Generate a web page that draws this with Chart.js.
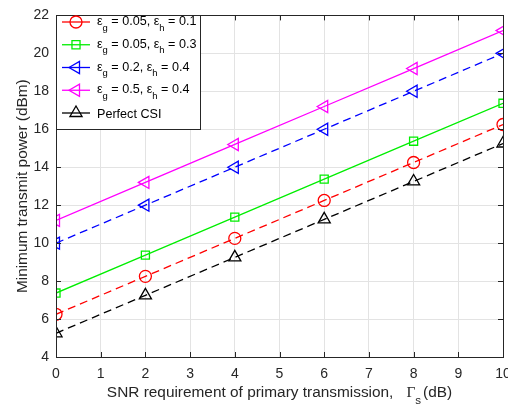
<!DOCTYPE html>
<html>
<head>
<meta charset="utf-8">
<script src="https://cdn.jsdelivr.net/npm/chart.js@4.4.0/dist/chart.umd.min.js"></script>
<style>
  html, body { margin: 0; padding: 0; background: #fff; overflow: hidden; }
  #wrap { width: 508px; height: 408px; position: relative; }
  #c { display: block; }
</style>
</head>
<body>
<div id="wrap"><canvas id="c"></canvas></div>
<script>
// data
const snr = [0, 2, 4, 6, 8, 10];
const powerG005H01 = [6.25, 8.25, 10.25, 12.25, 14.25, 16.25];
const powerG005H03 = [7.37, 9.37, 11.37, 13.37, 15.37, 17.37];
const powerG02H04 = [10, 12, 14, 16, 18, 20];
const powerG05H04 = [11.2, 13.2, 15.2, 17.2, 19.2, 21.2];
const powerPerfect = [5.25, 7.25, 9.25, 11.25, 13.25, 15.25];

const epsG = ['0.05', '0.05', '0.2', '0.5'];
const epsH = ['0.1', '0.3', '0.4', '0.4'];
const xTicks = [0, 1, 2, 3, 4, 5, 6, 7, 8, 9, 10];
const yTicks = [4, 6, 8, 10, 12, 14, 16, 18, 20, 22];

const FONT = '"Liberation Sans", Arial, Helvetica, sans-serif';
const SERIF = '"Liberation Serif", "Times New Roman", serif';
const AXC = '#262626';

function mk(values, color, style, rot, r, dash) {
  return {
    data: values.map((v, i) => ({ x: snr[i], y: v })),
    borderColor: color,
    borderWidth: 1.3,
    borderDash: dash,
    pointStyle: style,
    rotation: rot,
    pointRadius: r,
    pointHoverRadius: r,
    pointBackgroundColor: 'rgba(0,0,0,0)',
    pointBorderColor: color,
    pointBorderWidth: 1.3,
    fill: false,
    tension: 0
  };
}

const series = [
  mk(powerG005H01, '#ff0000', 'circle', 0, 6, [8, 5]),
  mk(powerG005H03, '#00ee00', 'rect', 0, 5.7, []),
  mk(powerG02H04, '#0000ff', 'triangle', -90, 7, [8, 5]),
  mk(powerG05H04, '#ff00ff', 'triangle', -90, 7, []),
  mk(powerPerfect, '#000000', 'triangle', 0, 7, [8, 5])
];

// text with subscripts, parts = [text, isSub, family, extraGapBefore]
function richText(ctx, parts, x, y, size, draw) {
  ctx.textBaseline = 'alphabetic';
  ctx.textAlign = 'left';
  const x0 = x;
  parts.forEach(p => {
    const sz = p[1] ? size * 0.75 : size;
    ctx.font = sz + 'px ' + (p[2] || FONT);
    x += p[3] || 0;
    if (draw) ctx.fillText(p[0], x, p[1] ? y + size * 0.45 : y);
    x += ctx.measureText(p[0]).width;
  });
  return x - x0;
}

const decor = {
  id: 'decor',
  afterDraw(chart) {
    const ctx = chart.ctx;
    const a = chart.chartArea;
    const sx = chart.scales.x, sy = chart.scales.y;
    ctx.save();
    // axes box and inward ticks
    ctx.strokeStyle = AXC;
    ctx.lineWidth = 1;
    ctx.setLineDash([]);
    ctx.strokeRect(Math.round(a.left) + 0.5, Math.round(a.top) + 0.5,
      Math.round(a.right - a.left), Math.round(a.bottom - a.top));
    ctx.beginPath();
    xTicks.forEach(t => {
      const px = Math.round(sx.getPixelForValue(t)) + 0.5;
      ctx.moveTo(px, a.bottom); ctx.lineTo(px, a.bottom - 5);
      ctx.moveTo(px, a.top); ctx.lineTo(px, a.top + 5);
    });
    yTicks.forEach(t => {
      const py = Math.round(sy.getPixelForValue(t)) + 0.5;
      ctx.moveTo(a.left, py); ctx.lineTo(a.left + 5, py);
      ctx.moveTo(a.right, py); ctx.lineTo(a.right - 5, py);
    });
    ctx.stroke();

    // x tick labels (drawn here so the last one may run past the edge)
    ctx.fillStyle = AXC;
    ctx.font = '14px ' + FONT;
    ctx.textAlign = 'center';
    ctx.textBaseline = 'alphabetic';
    xTicks.forEach(t => ctx.fillText(String(t), sx.getPixelForValue(t), a.bottom + 21));

    // x axis title with subscript
    const xParts = [['SNR requirement of primary transmission,', false],
      ['\u0393', false, SERIF, 13], ['s', true], ['(dB)', false, FONT, 2]];
    const w = richText(ctx, xParts, 0, 0, 15.4, false);
    richText(ctx, xParts, (a.left + a.right) / 2 - w / 2, 397, 15.4, true);

    // legend
    const lx = Math.round(a.left) + 0.5, ly = Math.round(a.top) + 0.5;
    ctx.fillStyle = '#fff';
    ctx.fillRect(lx, ly, 144, 114);
    ctx.strokeStyle = AXC;
    ctx.strokeRect(lx, ly, 144, 114);
    series.forEach((s, i) => {
      const y = 22 + i * 22.75;
      ctx.strokeStyle = s.borderColor;
      ctx.lineWidth = 1.3;
      ctx.setLineDash([]);
      ctx.beginPath();
      ctx.moveTo(62, y); ctx.lineTo(90, y);
      ctx.stroke();
      ctx.fillStyle = 'rgba(0,0,0,0)';
      Chart.helpers.drawPoint(ctx, {
        pointStyle: s.pointStyle, rotation: s.rotation,
        radius: s.pointRadius, borderWidth: 1.3
      }, 76, y);
      ctx.fillStyle = '#000';
      if (i < epsG.length) {
        richText(ctx, [['\u03b5', false], ['g', true], [' = ' + epsG[i] + ', \u03b5', false],
          ['h', true], [' = ' + epsH[i], false]], 97, y + 3, 12.6, true);
      } else {
        richText(ctx, [['Perfect CSI', false]], 97, y + 4.5, 12.6, true);
      }
    });
    ctx.restore();
  }
};

new Chart(document.getElementById('c'), {
  type: 'line',
  data: { datasets: series },
  options: {
    responsive: true,
    maintainAspectRatio: false,
    animation: false,
    events: [],
    layout: { autoPadding: false, padding: { top: 8, right: 5, left: 0, bottom: 0 } },
    plugins: { legend: { display: false }, tooltip: { enabled: false } },
    scales: {
      x: {
        type: 'linear',
        min: 0, max: 10,
        afterFit: s => { s.height = 51; },
        afterBuildTicks: s => { s.ticks = xTicks.map(v => ({ value: v })); },
        grid: { color: '#e3e3e3', drawTicks: false },
        border: { display: false },
        ticks: { display: false }
      },
      y: {
        min: 4, max: 22,
        afterFit: s => { s.width = 56; },
        afterBuildTicks: s => { s.ticks = yTicks.map(v => ({ value: v })); },
        grid: { color: '#e3e3e3', drawTicks: false },
        border: { display: false },
        ticks: { padding: 7, color: AXC, font: { family: FONT, size: 14 } },
        title: {
          display: true,
          text: 'Minimum transmit power (dBm)',
          color: AXC,
          font: { family: FONT, size: 15.4 },
          padding: { top: 14, bottom: 0 }
        }
      }
    }
  },
  plugins: [decor]
});
</script>
</body>
</html>
